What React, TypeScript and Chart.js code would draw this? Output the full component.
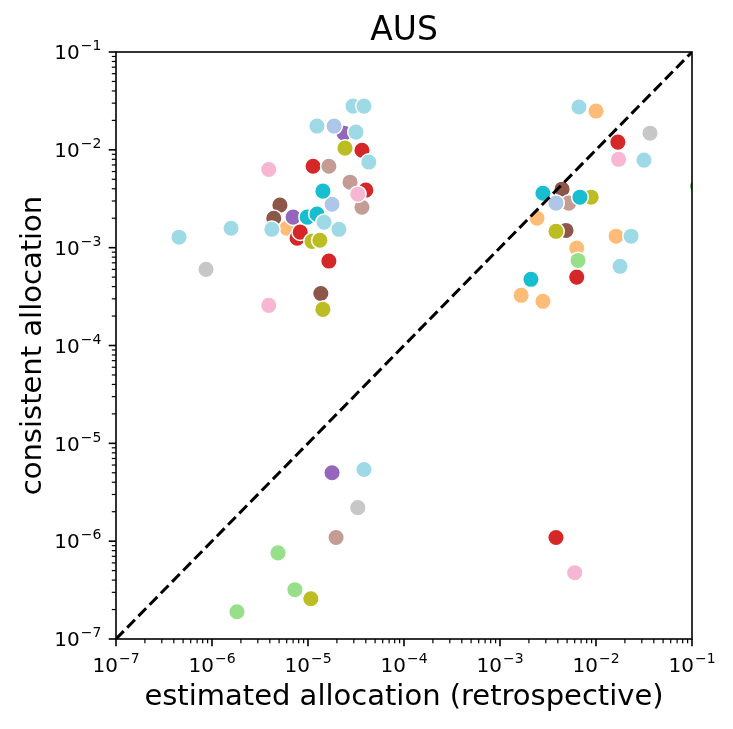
import React, { useEffect, useRef } from 'react';
import { Chart, registerables } from 'chart.js';

Chart.register(...registerables);

const TITLE = 'AUS';
const X_LABEL = 'estimated allocation (retrospective)';
const Y_LABEL = 'consistent allocation';
const AXIS_MIN = 1e-7;
const AXIS_MAX = 1e-1;
const MIN_EXP = -7;
const MAX_EXP = -1;

// Each point is [estimated allocation, consistent allocation]
const lightOrange: [number, number][] = [
  [6.0e-6, 1.58e-3], [1.0e-2, 2.49e-2], [2.43e-3, 2.0e-3], [1.62e-2, 1.31e-3],
  [6.3e-3, 9.9e-4], [1.66e-3, 3.26e-4], [2.8e-3, 2.83e-4],
];
const brown: [number, number][] = [
  [5.1e-6, 2.72e-3], [4.4e-6, 2.0e-3], [1.36e-5, 3.4e-4], [4.43e-3, 3.96e-3], [4.87e-3, 1.5e-3],
];
const purple: [number, number][] = [
  [7.0e-6, 2.05e-3], [2.37e-5, 1.48e-2], [1.78e-5, 5.0e-6],
];
const red: [number, number][] = [
  [7.7e-6, 1.25e-3], [8.3e-6, 1.44e-3], [1.65e-5, 7.3e-4], [4.0e-5, 3.87e-3], [1.13e-5, 6.8e-3],
  [3.65e-5, 9.9e-3], [1.69e-2, 1.2e-2], [6.3e-3, 5.0e-4], [3.83e-3, 1.09e-6],
];
const lightBrown: [number, number][] = [
  [2.74e-5, 4.67e-3], [3.65e-5, 2.59e-3], [1.65e-5, 6.8e-3], [5.2e-3, 2.85e-3], [1.96e-5, 1.09e-6],
];
const lightBlue: [number, number][] = [
  [1.78e-5, 2.78e-3], [1.87e-5, 1.75e-2], [3.83e-3, 2.85e-3],
];
const olive: [number, number][] = [
  [1.1e-5, 1.16e-3], [1.33e-5, 1.19e-3], [1.43e-5, 2.34e-4], [2.43e-5, 1.04e-2],
  [8.9e-3, 3.28e-3], [3.83e-3, 1.47e-3], [1.07e-5, 2.58e-7],
];
const lightGreen: [number, number][] = [
  [4.87e-6, 7.6e-7], [7.3e-6, 3.19e-7], [1.82e-6, 1.9e-7], [6.5e-3, 7.4e-4],
];
const cyan: [number, number][] = [
  [9.8e-6, 2.05e-3], [1.24e-5, 2.2e-3], [1.43e-5, 3.78e-3], [2.8e-3, 3.6e-3],
  [6.8e-3, 3.28e-3], [2.1e-3, 4.75e-4],
];
const lightCyan: [number, number][] = [
  [4.53e-7, 1.28e-3], [1.58e-6, 1.58e-3], [4.2e-6, 1.54e-3], [1.47e-5, 1.82e-3], [2.1e-5, 1.54e-3],
  [4.3e-5, 7.5e-3], [3.16e-5, 1.52e-2], [1.24e-5, 1.75e-2], [2.94e-5, 2.8e-2], [3.83e-5, 2.8e-2],
  [3.83e-5, 5.4e-6], [6.65e-3, 2.74e-2], [3.16e-2, 7.85e-3], [2.32e-2, 1.31e-3], [1.78e-2, 6.45e-4],
];
const lightPink: [number, number][] = [
  [3.9e-6, 6.3e-3], [3.9e-6, 2.57e-4], [3.3e-5, 3.52e-3], [1.72e-2, 8.0e-3], [6.0e-3, 4.76e-7],
];
const lightGray: [number, number][] = [
  [8.66e-7, 6.0e-4], [3.3e-5, 2.2e-6], [3.65e-2, 1.48e-2],
];
const green: [number, number][] = [
  [0.115, 4.25e-3],
];

// Drawn bottom to top
const SERIES: { points: [number, number][]; color: string }[] = [
  { points: lightOrange, color: '#ffbb78' },
  { points: brown, color: '#8c564b' },
  { points: purple, color: '#9467bd' },
  { points: red, color: '#d62728' },
  { points: lightBrown, color: '#c49c94' },
  { points: lightBlue, color: '#aec7e8' },
  { points: olive, color: '#bcbd22' },
  { points: lightGreen, color: '#98df8a' },
  { points: cyan, color: '#17becf' },
  { points: lightCyan, color: '#9edae5' },
  { points: lightPink, color: '#f7b6d2' },
  { points: lightGray, color: '#c7c7c7' },
  { points: green, color: '#2ca02c' },
];

const FONT = "'DejaVu Sans', 'Liberation Sans', sans-serif";
const TICK_SIZE = 20;
const SUP_SIZE = 14;
const SUP_RISE = 9;

const isDecade = (v: number) => {
  const e = Math.log10(v);
  return Math.abs(e - Math.round(e)) < 1e-6;
};

const logTicks = () => {
  const out: { value: number }[] = [];
  for (let e = MIN_EXP; e <= MAX_EXP; e++) {
    for (let m = 1; m <= 9; m++) {
      if (e === MAX_EXP && m > 1) break;
      out.push({ value: Number((m * Math.pow(10, e)).toPrecision(12)) });
    }
  }
  return out;
};

// Writes "10" with a raised exponent, e.g. 10^-3
const drawPower = (ctx: CanvasRenderingContext2D, value: number, x: number, baseline: number, align: 'center' | 'right') => {
  const exp = Math.round(Math.log10(value));
  const sup = exp < 0 ? '\u2212' + Math.abs(exp) : String(exp);
  const baseFont = `${TICK_SIZE}px ${FONT}`;
  const supFont = `${SUP_SIZE}px ${FONT}`;
  ctx.font = baseFont;
  const wBase = ctx.measureText('10').width;
  ctx.font = supFont;
  const wSup = ctx.measureText(sup).width;
  const gap = 1;
  const total = wBase + gap + wSup;
  const left = align === 'center' ? x - total / 2 : x - total;
  ctx.textAlign = 'left';
  ctx.textBaseline = 'alphabetic';
  ctx.font = baseFont;
  ctx.fillText('10', left, baseline);
  ctx.font = supFont;
  ctx.fillText(sup, left + wBase + gap, baseline - SUP_RISE);
};

// Frame, outward tick marks, tick labels and the title
const framePlugin = {
  id: 'frame',
  beforeDraw(chart: any) {
    const { ctx, width, height } = chart;
    ctx.save();
    ctx.fillStyle = '#ffffff';
    ctx.fillRect(0, 0, width, height);
    ctx.restore();
  },
  afterDatasetsDraw(chart: any) {
    const { ctx, chartArea: a, scales } = chart;
    const xs = scales.x;
    const ys = scales.y;
    ctx.save();
    ctx.strokeStyle = '#000000';
    ctx.fillStyle = '#000000';
    for (const t of xs.ticks) {
      const px = xs.getPixelForValue(t.value);
      const major = isDecade(t.value);
      ctx.lineWidth = major ? 1.6 : 1.2;
      ctx.beginPath();
      ctx.moveTo(px, a.bottom);
      ctx.lineTo(px, a.bottom + (major ? 7.3 : 4.2));
      ctx.stroke();
      if (major) drawPower(ctx, t.value, px, a.bottom + 33, 'center');
    }
    for (const t of ys.ticks) {
      const py = ys.getPixelForValue(t.value);
      const major = isDecade(t.value);
      ctx.lineWidth = major ? 1.6 : 1.2;
      ctx.beginPath();
      ctx.moveTo(a.left, py);
      ctx.lineTo(a.left - (major ? 7.3 : 4.2), py);
      ctx.stroke();
      if (major) drawPower(ctx, t.value, a.left - 14.6, py + 7.3, 'right');
    }
    ctx.lineWidth = 1.6;
    ctx.strokeRect(a.left, a.top, a.right - a.left, a.bottom - a.top);

    ctx.font = `33px ${FONT}`;
    ctx.textAlign = 'center';
    ctx.textBaseline = 'alphabetic';
    ctx.fillText(TITLE, (a.left + a.right) / 2, a.top - 12);
    ctx.restore();
  },
};

const labelFont = { family: FONT, size: 29 };

export default function App() {
  const canvasRef = useRef<HTMLCanvasElement | null>(null);

  useEffect(() => {
    if (!canvasRef.current) return;
    const n = SERIES.length;
    const datasets: any[] = SERIES.map((s, i) => ({
      type: 'scatter',
      data: s.points.map(([x, y]) => ({ x, y })),
      backgroundColor: s.color,
      borderColor: '#ffffff',
      borderWidth: 1.5,
      pointRadius: 8.3,
      pointHoverRadius: 8.3,
      clip: 0,
      order: n - i + 1,
    }));
    datasets.push({
      type: 'line',
      data: [
        { x: AXIS_MIN, y: AXIS_MIN },
        { x: AXIS_MAX, y: AXIS_MAX },
      ],
      borderColor: '#000000',
      borderWidth: 3,
      borderDash: [11, 5],
      pointRadius: 0,
      fill: false,
      clip: 0,
      order: 0,
    });

    const chart = new Chart(canvasRef.current, {
      type: 'scatter',
      data: { datasets },
      options: {
        animation: false,
        responsive: false,
        devicePixelRatio: 1,
        layout: { padding: { top: 52, right: 41, bottom: 0, left: 0 } },
        plugins: {
          legend: { display: false },
          tooltip: { enabled: false },
          title: { display: false },
        },
        scales: {
          x: {
            type: 'logarithmic',
            position: 'bottom',
            min: AXIS_MIN,
            max: AXIS_MAX,
            grid: { display: false },
            border: { display: false },
            afterBuildTicks: (s: any) => {
              s.ticks = logTicks();
            },
            afterFit: (s: any) => {
              s.height = 90;
            },
            ticks: { display: false, autoSkip: false },
            title: {
              display: true,
              text: X_LABEL,
              color: '#000000',
              font: labelFont,
              padding: { top: 0, bottom: 14 },
            },
          },
          y: {
            type: 'logarithmic',
            position: 'left',
            min: AXIS_MIN,
            max: AXIS_MAX,
            grid: { display: false },
            border: { display: false },
            afterBuildTicks: (s: any) => {
              s.ticks = logTicks();
            },
            afterFit: (s: any) => {
              s.width = 116;
            },
            ticks: { display: false, autoSkip: false },
            title: {
              display: true,
              text: Y_LABEL,
              color: '#000000',
              font: labelFont,
              padding: { top: 16, bottom: 0 },
            },
          },
        },
      },
      plugins: [framePlugin],
    } as any);

    return () => chart.destroy();
  }, []);

  return (
    <div style={{ position: 'absolute', left: 0, top: 0, width: 733, height: 729, background: '#ffffff' }}>
      <canvas ref={canvasRef} width={733} height={729} style={{ display: 'block', width: 733, height: 729 }} />
    </div>
  );
}
